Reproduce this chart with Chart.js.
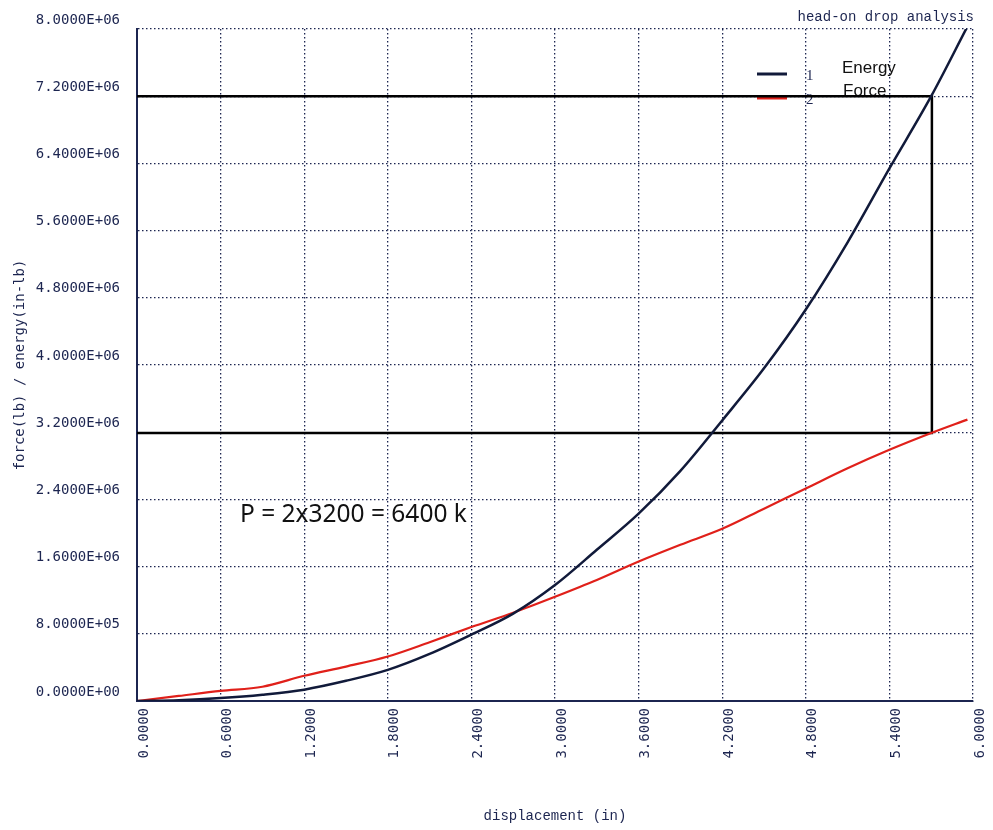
<!DOCTYPE html>
<html>
<head>
<meta charset="utf-8">
<script src="https://cdn.jsdelivr.net/npm/chart.js@4.4.0/dist/chart.umd.min.js"></script>
<style>
  body { margin: 0; background: #fff; }
  #wrap { width: 993px; height: 830px; }
</style>
</head>
<body>
<div id="wrap"><canvas id="dropChart" width="993" height="830"></canvas></div>
<script>
// displacement (in)
const dispX = [0, 0.3, 0.6, 0.9, 1.2, 1.5, 1.8, 2.1, 2.4, 2.7, 3.0, 3.3, 3.6, 3.9, 4.2, 4.5, 4.8, 5.1, 5.4, 5.7, 5.96];
// energy (in-lb)
const energy = [0, 0.01e6, 0.035e6, 0.075e6, 0.135e6, 0.24e6, 0.37e6, 0.56e6, 0.79e6, 1.04e6, 1.38e6, 1.80e6, 2.23e6, 2.74e6, 3.34e6, 3.96e6, 4.66e6, 5.46e6, 6.34e6, 7.2e6, 8.03e6];
// force (lb)
const force = [0, 0.06e6, 0.12e6, 0.17e6, 0.30e6, 0.41e6, 0.53e6, 0.70e6, 0.88e6, 1.05e6, 1.24e6, 1.44e6, 1.66e6, 1.86e6, 2.05e6, 2.29e6, 2.53e6, 2.77e6, 2.99e6, 3.19e6, 3.35e6];
// marker box drawn on the plot
const boxX = [0, 5.705, 5.705, 0];
const boxY = [7.2e6, 7.2e6, 3.19e6, 3.19e6];

const seriesNames = ["Energy", "Force"];
const seriesNums = ["1", "2"];
const chartTitle = "head-on drop analysis";
const note = "P = 2x3200 = 6400 k";

const navy = "#1c2550";

function pts(xs, ys) {
  return xs.map((x, i) => ({ x: x, y: ys[i] }));
}

function sci(v) {
  if (v === 0) return "0.0000E+00";
  const e = Math.floor(Math.log10(Math.abs(v)) + 1e-9);
  const m = v / Math.pow(10, e);
  return m.toFixed(4) + "E" + (e < 0 ? "-" : "+") + String(Math.abs(e)).padStart(2, "0");
}

// title, legend and note text
const extras = {
  id: "extras",
  beforeDatasetsDraw(chart) {
    const ctx = chart.ctx;
    ctx.save();
    // legend samples
    const cols = ["#111a3a", "#e0201a"];
    const ys = [74, 98];
    for (let i = 0; i < 2; i++) {
      ctx.strokeStyle = cols[i];
      ctx.lineWidth = 3;
      ctx.beginPath();
      ctx.moveTo(757, ys[i]);
      ctx.lineTo(787, ys[i]);
      ctx.stroke();
      ctx.fillStyle = navy;
      ctx.font = "15px 'Liberation Serif'";
      ctx.textBaseline = "middle";
      ctx.textAlign = "left";
      ctx.fillText(seriesNums[i], 806, ys[i] + 2);
    }
    ctx.fillStyle = "#111";
    ctx.font = "17px 'Liberation Sans'";
    ctx.fillText(seriesNames[0], 842, 68);
    ctx.fillText(seriesNames[1], 843, 91);
    ctx.restore();
  },
  afterDraw(chart) {
    const ctx = chart.ctx;
    ctx.save();
    ctx.fillStyle = navy;
    ctx.font = "14px 'Liberation Mono'";
    ctx.textAlign = "right";
    ctx.textBaseline = "middle";
    ctx.fillText(chartTitle, 974, 17);
    ctx.fillStyle = "#111";
    ctx.font = "24.5px 'Noto Sans'";
    ctx.textAlign = "left";
    ctx.fillText(note, 240, 515);
    ctx.restore();
  }
};

const ctx = document.getElementById("dropChart").getContext("2d");

const myChart = new Chart(ctx, {
  type: "line",
  data: {
    datasets: [
      {
        label: seriesNames[0],
        data: pts(dispX, energy),
        borderColor: "#111a3a",
        borderWidth: 2.5,
        pointRadius: 0,
        cubicInterpolationMode: "monotone",
      },
      {
        label: seriesNames[1],
        data: pts(dispX, force),
        borderColor: "#e0201a",
        borderWidth: 2.2,
        pointRadius: 0,
        cubicInterpolationMode: "monotone",
      },
      {
        label: "box",
        data: pts(boxX, boxY),
        borderColor: "#000",
        borderWidth: 2.5,
        pointRadius: 0,
        tension: 0,
      },
    ],
  },
  options: {
    responsive: false,
    animation: false,
    layout: { padding: { top: 29, right: 20, left: 0, bottom: 0 } },
    plugins: {
      legend: { display: false },
      tooltip: { enabled: false },
    },
    scales: {
      x: {
        type: "linear",
        min: 0,
        max: 6,
        afterFit: (s) => { s.height = 129; s.paddingLeft = 0; s.paddingRight = 0; },
        ticks: {
          stepSize: 0.6,
          minRotation: 90,
          maxRotation: 90,
          padding: 7,
          labelOffset: 7,
          color: navy,
          font: { family: "'DejaVu Sans Mono'", size: 14 },
          callback: (v) => Number(v).toFixed(4),
        },
        grid: { color: navy, lineWidth: 1.3, tickLength: 0 },
        border: { color: navy, width: 2, dash: [1.5, 2.5] },
        title: {
          display: true,
          text: "displacement (in)",
          color: navy,
          font: { family: "'Liberation Mono'", size: 14 },
          padding: { top: 0, bottom: 5 },
        },
      },
      y: {
        min: 0,
        max: 8e6,
        afterFit: (s) => { s.width = 137; },
        ticks: {
          stepSize: 0.8e6,
          padding: 17,
          labelOffset: -9,
          color: navy,
          font: { family: "'DejaVu Sans Mono'", size: 14 },
          callback: (v) => sci(v),
        },
        grid: { color: navy, lineWidth: 1.3, tickLength: 0 },
        border: { color: navy, width: 2, dash: [1.5, 2.5] },
        title: {
          display: true,
          text: "force(lb) / energy(in-lb)",
          color: navy,
          font: { family: "'DejaVu Sans Mono'", size: 14 },
          padding: { top: 12, bottom: 0 },
        },
      },
    },
  },
  plugins: [extras],
});
</script>
</body>
</html>
